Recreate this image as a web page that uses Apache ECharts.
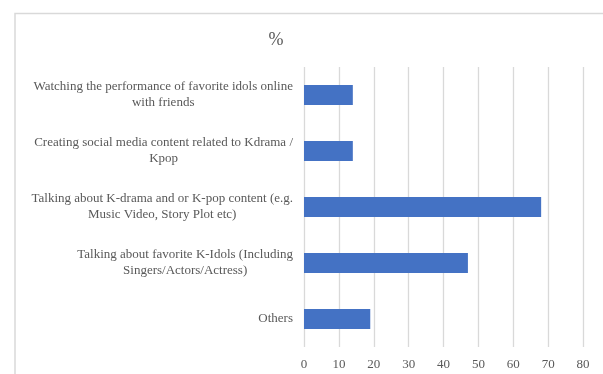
<!DOCTYPE html>
<html>
<head>
<meta charset="utf-8">
<style>
  html, body { margin: 0; padding: 0; background: #fff; }
  #chart { width: 603px; height: 374px; }
</style>
<script src="https://cdn.jsdelivr.net/npm/echarts@6/dist/echarts.min.js"></script>
</head>
<body>
<div id="chart"></div>
<script>
const categories = [
  "Others",
  "Talking about favorite K-Idols (Including\nSingers/Actors/Actress)",
  "Talking about K-drama and or K-pop content (e.g.\nMusic Video, Story Plot etc)",
  "Creating social media content related to Kdrama /\nKpop",
  "Watching the performance of favorite idols online\nwith friends"
];
const values = [19, 47, 68, 14, 14];
const chartTitle = "%";

const chart = echarts.init(document.getElementById('chart'));
chart.setOption({
  animation: false,
  backgroundColor: '#ffffff',
  title: {
    text: chartTitle,
    left: 271, top: 26, textAlign: 'center',
    textStyle: { fontFamily: 'Liberation Serif', fontSize: 18, fontWeight: 'normal', color: '#595959' }
  },
  graphic: [{
    type: 'rect', silent: true,
    shape: { x: 15, y: 13.5, width: 700, height: 500 },
    style: { fill: 'none', stroke: '#d9d9d9', lineWidth: 1.5 }
  }],
  grid: { left: 304, right: 20, top: 67, bottom: 27, containLabel: false },
  xAxis: {
    type: 'value', min: 0, max: 80, interval: 10,
    axisLine: { show: false }, axisTick: { show: false },
    splitLine: { show: true, lineStyle: { color: '#d9d9d9', width: 1.3 } },
    axisLabel: { fontFamily: 'Liberation Serif', fontSize: 13, color: '#595959', margin: 11 }
  },
  yAxis: {
    type: 'category', data: categories,
    axisLine: { show: false }, axisTick: { show: false },
    axisLabel: {
      fontFamily: 'Liberation Serif', fontSize: 13, color: '#595959', margin: 11,
      lineHeight: 16, align: 'right',
      formatter: function (v) {
        return v.split('\n').map(function (l) { return '{c|' + l + '}'; }).join('\n');
      },
      rich: { c: { align: 'center', fontFamily: 'Liberation Serif', fontSize: 13, color: '#595959', lineHeight: 16 } }
    }
  },
  series: [{
    type: 'bar', data: values, barWidth: 20,
    itemStyle: { color: '#4472C4' }
  }]
});
</script>
</body>
</html>
